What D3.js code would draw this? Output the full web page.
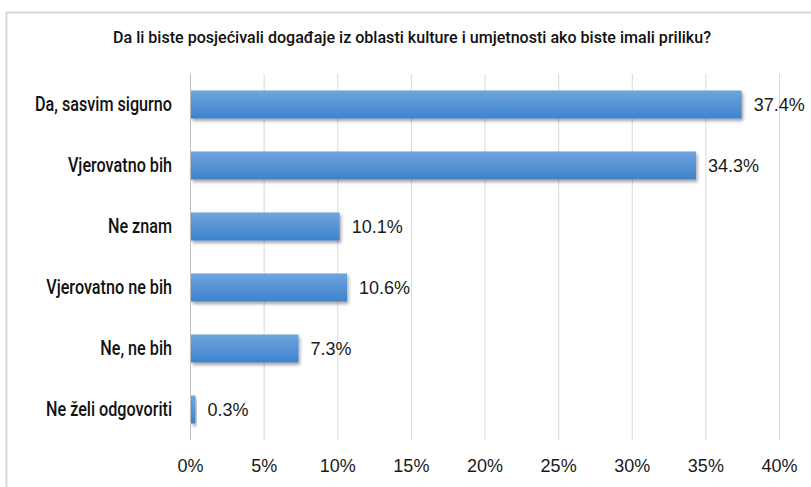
<!DOCTYPE html>
<html><head><meta charset="utf-8">
<script src="https://cdn.jsdelivr.net/npm/d3@7"></script>
<style>
body{margin:0;background:#fff;}
svg{display:block;}
</style></head>
<body>
<script>
const categories = ["Da, sasvim sigurno","Vjerovatno bih","Ne znam","Vjerovatno ne bih","Ne, ne bih","Ne želi odgovoriti"];
const values = [37.4, 34.3, 10.1, 10.6, 7.3, 0.3];
const valueLabels = ["37.4%","34.3%","10.1%","10.6%","7.3%","0.3%"];
const ticks = [0,5,10,15,20,25,30,35,40];
const title = "Da li biste posjećivali događaje iz oblasti kulture i umjetnosti ako biste imali priliku?";

const W=811,H=487;
const svg=d3.select("body").append("svg").attr("width",W).attr("height",H);
const defs=svg.append("defs");
const g=defs.append("linearGradient").attr("id","bg").attr("x1",0).attr("y1",0).attr("x2",0).attr("y2",1);
g.append("stop").attr("offset","0%").attr("stop-color","#6ea6de");
g.append("stop").attr("offset","100%").attr("stop-color","#3f82cc");
const f=defs.append("filter").attr("id","sh").attr("x","-10%").attr("y","-30%").attr("width","130%").attr("height","180%");
f.append("feDropShadow").attr("dx",1.5).attr("dy",2.5).attr("stdDeviation",1.8).attr("flood-color","#000").attr("flood-opacity",0.35);

const condFont="Roboto,'DejaVu Sans',sans-serif";
function squeeze(sel, factor){
  sel.each(function(){
    const w=this.getComputedTextLength();
    d3.select(this).attr("textLength",w*factor).attr("lengthAdjust","spacingAndGlyphs");
  });
}

// frame
svg.append("rect").attr("x",6.5).attr("y",12.5).attr("width",W).attr("height",H).attr("fill","none").attr("stroke","#d9d9d9").attr("stroke-width",2);

const x=d3.scaleLinear().domain([0,40]).range([190,779]);
const y=d3.scaleBand().domain(categories).range([74,440]).paddingInner(0.54).paddingOuter(0.27);

const t=svg.append("text").attr("x",412).attr("y",43).attr("text-anchor","middle")
 .attr("font-family",condFont).attr("font-weight",500)
 .attr("font-size",16).attr("fill","#111").text(title);
{ const w=t.node().getComputedTextLength(); t.attr("textLength",598).attr("lengthAdjust","spacingAndGlyphs"); }

// gridlines
svg.append("g").selectAll("line").data(ticks).join("line")
 .attr("x1",d=>x(d)+0.5).attr("x2",d=>x(d)+0.5).attr("y1",74).attr("y2",440)
 .attr("stroke",d=>d===0?"#bfbfbf":"#d9d9d9").attr("stroke-width",1);

// x tick labels via axis
const ax=svg.append("g").attr("transform","translate(0,440)")
 .call(d3.axisBottom(x).tickValues(ticks).tickFormat(d=>d+"%").tickSize(0).tickPadding(19));
ax.select(".domain").remove();
ax.selectAll("text").attr("font-family","'Liberation Sans',Arial,sans-serif").attr("font-size",18).attr("fill","#1a1a1a");

// y labels
const ay=svg.append("g").attr("transform","translate(172,0)")
 .call(d3.axisLeft(y).tickSize(0).tickPadding(0));
ay.select(".domain").remove();
ay.selectAll("text").attr("font-family",condFont)
 .attr("font-weight",500).attr("font-size",20).attr("fill","#111");
{
  const first=ay.select("text").node().getComputedTextLength();
  squeeze(ay.selectAll("text"), 137/first);
}

// bars
svg.append("g").selectAll("rect").data(values).join("rect")
 .attr("x",x(0)+1).attr("y",(d,i)=>y(categories[i]))
 .attr("width",d=>x(d)-x(0)).attr("height",y.bandwidth())
 .attr("fill","url(#bg)").attr("filter","url(#sh)");

// value labels
svg.append("g").selectAll("text").data(values).join("text")
 .attr("x",d=>x(d)+13).attr("y",(d,i)=>y(categories[i])+y.bandwidth()/2).attr("dy","0.36em")
 .attr("font-family","'Liberation Sans',Arial,sans-serif").attr("font-size",18).attr("fill","#1a1a1a")
 .text((d,i)=>valueLabels[i]);
</script>
</body></html>
